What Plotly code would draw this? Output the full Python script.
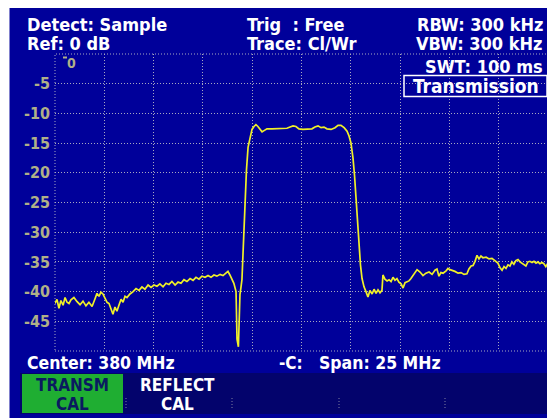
import plotly.graph_objects as go

# ---- data ----
freq_mhz = [367.50, 367.60, 367.70, 367.80, 367.91, 368.01, 368.11, 368.21, 368.31, 368.46,
            368.62, 368.77, 368.92, 369.07, 369.22, 369.38, 369.53, 369.63, 369.73, 369.83,
            369.93, 370.04, 370.14, 370.24, 370.34, 370.44, 370.54, 370.64, 370.75, 370.85,
            370.95, 371.05, 371.15, 371.30, 371.46, 371.61, 371.76, 371.91, 372.06, 372.22,
            372.37, 372.52, 372.67, 372.82, 372.98, 373.13, 373.28, 373.43, 373.59, 373.74,
            373.89, 374.04, 374.19, 374.35, 374.50, 374.65, 374.80, 374.95, 375.11, 375.26,
            375.41, 375.56, 375.71, 375.87, 376.02, 376.17, 376.27, 376.37, 376.47, 376.57,
            376.68, 376.73, 376.80, 376.88, 376.93, 376.98, 377.03, 377.08, 377.13, 377.21,
            377.29, 377.39, 377.49, 377.59, 377.69, 377.79, 377.90, 378.00, 378.10, 378.25,
            378.50, 378.76, 379.01, 379.26, 379.42, 379.57, 379.72, 379.87, 380.07, 380.33,
            380.53, 380.68, 380.84, 380.99, 381.14, 381.29, 381.50, 381.70, 381.85, 382.00,
            382.16, 382.31, 382.41, 382.51, 382.61, 382.69, 382.76, 382.84, 382.92, 382.99,
            383.07, 383.17, 383.27, 383.37, 383.47, 383.58, 383.68, 383.78, 383.88, 383.98,
            384.08, 384.13, 384.23, 384.34, 384.44, 384.54, 384.64, 384.74, 384.84, 384.94,
            385.05, 385.15, 385.25, 385.35, 385.45, 385.55, 385.71, 385.86, 386.01, 386.16,
            386.31, 386.47, 386.62, 386.77, 386.87, 386.97, 387.07, 387.18, 387.33, 387.43,
            387.53, 387.63, 387.78, 387.94, 388.09, 388.24, 388.39, 388.49, 388.60, 388.70,
            388.80, 388.90, 389.00, 389.10, 389.20, 389.36, 389.51, 389.66, 389.81, 389.96,
            390.07, 390.17, 390.27, 390.37, 390.47, 390.57, 390.67, 390.77, 390.87, 390.98,
            391.08, 391.18, 391.28, 391.38, 391.48, 391.58, 391.69, 391.79, 391.89, 391.99,
            392.09, 392.19, 392.29, 392.39, 392.50]
level_db = [-42.0, -41.3, -42.8, -41.5, -42.3, -41.0, -41.8, -42.0, -41.4, -41.0,
            -41.7, -42.2, -41.6, -42.4, -41.8, -42.5, -41.2, -40.3, -40.8, -40.1,
            -40.4, -41.3, -41.8, -42.0, -42.9, -43.8, -42.6, -43.3, -42.2, -41.3,
            -41.8, -40.8, -41.0, -40.4, -40.0, -39.5, -39.8, -39.2, -39.6, -38.9,
            -39.3, -38.9, -39.1, -38.7, -39.2, -38.6, -38.8, -38.3, -38.9, -38.4,
            -38.6, -38.0, -38.3, -37.8, -38.1, -37.6, -37.9, -37.4, -37.6, -37.3,
            -37.6, -37.2, -37.4, -37.1, -37.3, -36.9, -36.6, -37.2, -38.0, -38.6,
            -40.0, -48.0, -49.3, -40.5, -39.3, -38.0, -34.0, -29.0, -24.0, -19.5,
            -15.7, -14.0, -12.7, -12.2, -11.9, -12.2, -12.7, -13.1, -12.9, -12.6,
            -12.6, -12.6, -12.5, -12.5, -12.3, -12.1, -12.2, -12.6, -12.7, -12.7,
            -12.6, -12.3, -12.1, -12.4, -12.3, -12.6, -12.7, -12.4, -12.0, -12.0,
            -12.4, -13.0, -13.8, -15.0, -17.5, -20.5, -24.0, -28.5, -32.5, -35.5,
            -37.8, -39.2, -40.0, -40.9, -39.8, -40.4, -39.6, -40.3, -39.7, -40.2,
            -39.8, -37.2, -37.9, -38.2, -38.0, -38.3, -37.6, -38.1, -37.8, -38.4,
            -38.7, -39.4, -38.5, -38.3, -38.2, -37.8, -37.0, -36.3, -36.7, -37.3,
            -36.9, -36.7, -37.1, -36.4, -36.2, -37.4, -36.8, -36.9, -36.5, -36.1,
            -36.3, -36.4, -36.6, -36.9, -36.8, -37.1, -37.0, -36.2, -35.7, -35.6,
            -34.9, -33.9, -34.5, -34.0, -34.3, -34.2, -34.5, -34.4, -34.8, -35.2,
            -36.0, -36.4, -35.8, -36.1, -35.5, -35.7, -35.0, -35.4, -34.8, -34.6,
            -35.0, -35.2, -35.5, -35.7, -35.0, -34.9, -35.1, -34.9, -35.2, -35.0,
            -35.3, -35.1, -35.3, -35.8, -35.2]
y_ticks = [-5, -10, -15, -20, -25, -30, -35, -40, -45]
x_range = [367.5, 392.5]
y_range = [-50, 0]

# ---- geometry: the page body has an 8px margin, so the figure sits at (8, 8) ----
OX, OY = 8, 8
W, H = 555 - OX, 418 - OY
PLOT_X0, PLOT_X1, PLOT_Y0, PLOT_Y1 = 55, 548, 54, 351   # window pixels
L, R = PLOT_X0 - OX, W - (PLOT_X1 - OX)
T, B = PLOT_Y0 - OY, H - (PLOT_Y1 - OY)
PW, PH = PLOT_X1 - PLOT_X0, PLOT_Y1 - PLOT_Y0


def px(x):
    return (x - PLOT_X0) / PW


def py(y):
    return (PLOT_Y1 - y) / PH


BG = "#00009a"
KEYBG = "#03036c"
LBL = "#b0b088"
FONT = "DejaVu Sans Condensed, DejaVu Sans, sans-serif"
GRID = "#a8a8c0"

fig = go.Figure()
fig.add_trace(go.Scatter(x=freq_mhz, y=level_db, mode="lines",
                         line=dict(color="#f0f028", width=1.7), hoverinfo="skip"))

shapes = [
    # white page margin on the left
    dict(type="rect", xref="paper", yref="paper", x0=px(0), x1=px(9.5), y0=py(430), y1=py(0),
         fillcolor="white", line_width=0, layer="below"),
    # softkey band
    dict(type="rect", xref="paper", yref="paper", x0=px(20), x1=px(549), y0=py(414), y1=py(373),
         fillcolor=KEYBG, line_width=0, layer="below"),
    dict(type="rect", xref="paper", yref="paper", x0=px(22), x1=px(123), y0=py(413), y1=py(374),
         fillcolor="#1fae32", line_width=0, layer="below"),
    # plot border dotted
    dict(type="rect", xref="paper", yref="paper", x0=0, x1=1, y0=0, y1=1,
         line=dict(color=GRID, width=1, dash="1px,2px"), layer="below"),
    # Transmission box
    dict(type="rect", xref="paper", yref="paper", x0=px(404), x1=px(547), y0=py(96.5), y1=py(75.5),
         line=dict(color="white", width=1.5)),
    # little tick mark at "0"
    dict(type="line", xref="paper", yref="paper", x0=px(63), x1=px(67), y0=py(57.5), y1=py(57.5),
         line=dict(color=LBL, width=2)),
]
for sx in [126, 232, 339, 445]:
    shapes.append(dict(type="line", xref="paper", yref="paper", x0=px(sx), x1=px(sx),
                       y0=py(408), y1=py(396), line=dict(color="#8080a0", width=1, dash="1px,2px")))

anns = []


def txt(x, y, s, anchor="left", color="white", size=18):
    anns.append(dict(x=px(x), y=py(y), xref="paper", yref="paper", text=s, showarrow=False,
                     xanchor=anchor, yanchor="middle",
                     font=dict(family=FONT, size=size, color=color, weight="bold")))


txt(25, 25, "Detect: Sample")
txt(25, 44, "Ref: 0 dB")
txt(245, 25, "Trig&nbsp;&nbsp;: Free")
txt(245, 44, "Trace: Cl/Wr")
txt(545, 25, "RBW: 300 kHz", "right")
txt(545, 44, "VBW: 300 kHz", "right")
txt(545, 66, "SWT: 100 ms", "right")
txt(476, 86, "Transmission", "center", "white", 19)
txt(71, 63, "0", "center", LBL, 14)
txt(25, 363, "Center: 380 MHz", "left", "white", 17.5)
txt(277, 363, "-C:", "left", "white", 17)
txt(317, 363, "Span: 25 MHz", "left", "white", 17.5)
txt(72, 385, "TRANSM", "center", "#0a1a60", 17)
txt(72, 404, "CAL", "center", "#0a1a60", 17)
txt(177, 385, "REFLECT", "center", "white", 17)
txt(177, 404, "CAL", "center", "white", 17)

fig.update_layout(
    width=W, height=H,
    margin=dict(l=L, r=R, t=T, b=B, pad=0),
    paper_bgcolor=BG, plot_bgcolor=BG,
    showlegend=False,
    shapes=shapes, annotations=anns,
    xaxis=dict(range=x_range, dtick=2.5, tick0=367.5, showticklabels=False, ticks="",
               showgrid=True, gridcolor=GRID, griddash="1px,2px", gridwidth=1,
               zeroline=False, showline=False, fixedrange=True),
    yaxis=dict(range=y_range, tickvals=y_ticks, ticktext=[str(v) for v in y_ticks],
               showgrid=True, gridcolor=GRID, griddash="1px,2px", gridwidth=1,
               zeroline=False, showline=False, ticks="", ticklabelstandoff=4,
               tickfont=dict(family=FONT, size=16, color=LBL, weight="bold"), fixedrange=True),
)

fig.write_html("out.html")
